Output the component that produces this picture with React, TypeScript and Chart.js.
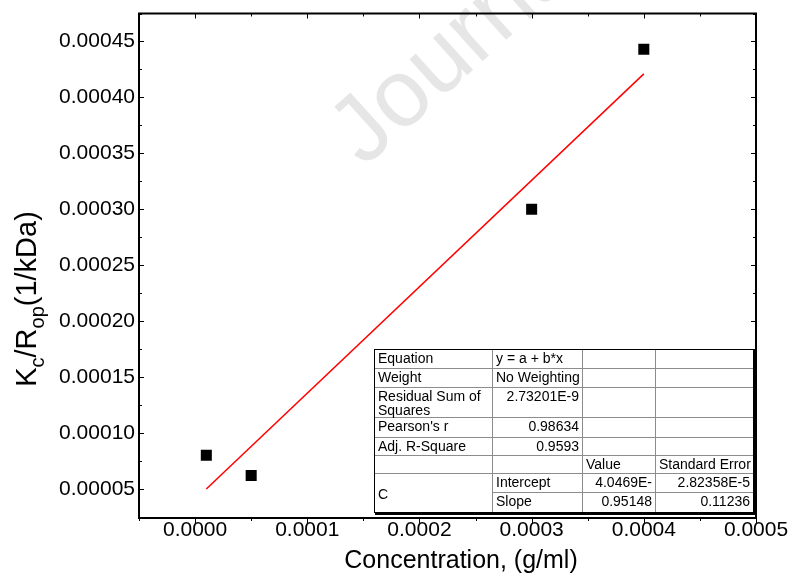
import React, { useEffect, useRef } from "react";
import { Chart, registerables } from "chart.js";

Chart.register(...registerables);

// Measured samples: concentration (g/ml) vs Kc/Rθ (1/kDa)
const concentration = [0.00001, 0.00005, 0.0003, 0.0004];
const kcOverRop = [0.00008, 0.000062, 0.0003, 0.000443];

// Linear fit y = a + b*x
const fitIntercept = 4.0469e-5;
const fitSlope = 0.95148;

const xTickValues = [0, 0.0001, 0.0002, 0.0003, 0.0004, 0.0005];
const yTickValues = [0.00005, 0.0001, 0.00015, 0.0002, 0.00025, 0.0003, 0.00035, 0.0004, 0.00045];

// Fit statistics table
const statLabels = [["Equation"], ["Weight"], ["Residual Sum of", "Squares"], ["Pearson's r"], ["Adj. R-Square"]];
const statValues = ["y = a + b*x", "No Weighting", "2.73201E-9", "0.98634", "0.9593"];
const paramHeaders = ["Value", "Standard Error"];
const paramGroup = "C";
const paramNames = ["Intercept", "Slope"];
const paramValues = ["4.0469E-", "0.95148"];
const paramErrors = ["2.82358E-5", "0.11236"];

const xTitle = "Concentration, (g/ml)";
const yTitleParts = [
  { text: "K", sub: false },
  { text: "c", sub: true },
  { text: "/R", sub: false },
  { text: "op", sub: true },
  { text: "(1/kDa)", sub: false },
];
const watermarkText = "Journal Pre-proof";

const FONT = "'Liberation Sans', Arial, sans-serif";

function drawTable(ctx: CanvasRenderingContext2D) {
  const colX = [374, 492, 582, 655, 753];
  const rowY = [349, 368, 387, 417, 437, 455, 473, 492, 512];
  const left = colX[0];
  const right = colX[4];
  const top = rowY[0];
  const bottom = rowY[rowY.length - 1];

  ctx.save();
  ctx.fillStyle = "#ffffff";
  ctx.fillRect(left, top, right - left, bottom - top);

  // inner grid
  ctx.strokeStyle = "#8c8c8c";
  ctx.lineWidth = 1;
  ctx.beginPath();
  for (let i = 1; i < rowY.length - 1; i++) {
    const y = rowY[i] + 0.5;
    const x0 = i === 7 ? colX[1] : left;
    ctx.moveTo(x0, y);
    ctx.lineTo(right, y);
  }
  for (let j = 1; j < colX.length - 1; j++) {
    const x = colX[j] + 0.5;
    ctx.moveTo(x, top);
    ctx.lineTo(x, bottom);
  }
  ctx.stroke();

  // border
  ctx.strokeStyle = "#000000";
  ctx.lineWidth = 1;
  ctx.strokeRect(left + 0.5, top + 0.5, right - left, bottom - top);
  ctx.lineWidth = 2;
  ctx.beginPath();
  ctx.moveTo(right + 2, top + 1);
  ctx.lineTo(right + 2, bottom + 2);
  ctx.lineTo(left + 1, bottom + 2);
  ctx.stroke();

  ctx.fillStyle = "#000000";
  ctx.font = `14px ${FONT}`;
  ctx.textBaseline = "alphabetic";
  const pad = 4;
  const base = 13.5;

  statLabels.forEach((lines, i) => {
    ctx.textAlign = "left";
    lines.forEach((ln, k) => ctx.fillText(ln, colX[0] + pad, rowY[i] + base + k * 14.5));
    const alignRight = i >= 2;
    ctx.textAlign = alignRight ? "right" : "left";
    ctx.fillText(statValues[i], alignRight ? colX[2] - 3 : colX[1] + pad, rowY[i] + base);
  });

  ctx.textAlign = "left";
  ctx.fillText(paramHeaders[0], colX[2] + pad, rowY[5] + base);
  ctx.fillText(paramHeaders[1], colX[3] + pad, rowY[5] + base);

  ctx.fillText(paramGroup, colX[0] + pad, (rowY[6] + rowY[8]) / 2 + 6);
  paramNames.forEach((name, i) => {
    const y = rowY[6 + i] + base;
    ctx.textAlign = "left";
    ctx.fillText(name, colX[1] + pad, y);
    ctx.textAlign = "right";
    ctx.fillText(paramValues[i], colX[3] - 3, y);
    ctx.fillText(paramErrors[i], colX[4] - 3, y);
  });
  ctx.restore();
}

const decorPlugin = {
  id: "decor",
  beforeDraw(chart: any) {
    const { ctx, width, height } = chart;
    ctx.save();
    ctx.fillStyle = "#ffffff";
    ctx.fillRect(0, 0, width, height);
    ctx.translate(364, 168);
    ctx.rotate((-42 * Math.PI) / 180);
    ctx.font = `95px ${FONT}`;
    ctx.fillStyle = "#e6e6e6";
    ctx.textBaseline = "alphabetic";
    ctx.fillText(watermarkText, 0, 0);
    ctx.restore();
  },
  afterDatasetsDraw(chart: any) {
    const { ctx, chartArea } = chart;
    const { left, top, right, bottom } = chartArea;
    const xs = chart.scales.x;
    const ys = chart.scales.y;

    ctx.save();
    // frame
    ctx.strokeStyle = "#000000";
    ctx.lineWidth = 2;
    ctx.strokeRect(left, top, right - left, bottom - top);

    // tick marks
    ctx.lineWidth = 1;
    ctx.beginPath();
    for (let i = -1; i <= 10; i++) {
      const v = i * 0.00005;
      if (v < xs.min - 1e-12 || v > xs.max + 1e-12) continue;
      const len = i % 2 === 0 ? 5 : 3;
      const x = Math.round(xs.getPixelForValue(v)) + 0.5;
      ctx.moveTo(x, bottom);
      ctx.lineTo(x, bottom + len);
      ctx.moveTo(x, top);
      ctx.lineTo(x, top + len);
    }
    for (let i = 1; i <= 19; i++) {
      const v = i * 0.000025;
      if (v < ys.min || v > ys.max) continue;
      const len = i % 2 === 0 ? 5 : 3;
      const y = Math.round(ys.getPixelForValue(v)) + 0.5;
      ctx.moveTo(left, y);
      ctx.lineTo(left + len, y);
      ctx.moveTo(right, y);
      ctx.lineTo(right - len, y);
    }
    ctx.stroke();

    drawTable(ctx);

    // x axis title
    ctx.fillStyle = "#000000";
    ctx.font = `25px ${FONT}`;
    ctx.textAlign = "center";
    ctx.textBaseline = "alphabetic";
    ctx.fillText(xTitle, 461, 568);

    // y axis title with subscripts
    const mainFont = `29px ${FONT}`;
    const subFont = `20px ${FONT}`;
    let total = 0;
    yTitleParts.forEach((p) => {
      ctx.font = p.sub ? subFont : mainFont;
      total += ctx.measureText(p.text).width;
    });
    ctx.translate(36, 299);
    ctx.rotate(-Math.PI / 2);
    ctx.textAlign = "left";
    let cx = -total / 2;
    yTitleParts.forEach((p) => {
      ctx.font = p.sub ? subFont : mainFont;
      ctx.fillText(p.text, cx, p.sub ? 8 : 0);
      cx += ctx.measureText(p.text).width;
    });
    ctx.restore();
  },
};

export default function App() {
  const canvasRef = useRef<HTMLCanvasElement | null>(null);

  useEffect(() => {
    const canvas = canvasRef.current;
    if (!canvas) return;

    const points = concentration.map((x, i) => ({ x, y: kcOverRop[i] }));
    const fitXs = [Math.min(...concentration), Math.max(...concentration)];
    const fitLine = fitXs.map((x) => ({ x, y: fitIntercept + fitSlope * x }));

    const chart = new Chart(canvas, {
      type: "scatter",
      data: {
        datasets: [
          {
            data: fitLine,
            showLine: true,
            borderColor: "#ff0000",
            borderWidth: 1.5,
            pointRadius: 0,
            fill: false,
          },
          {
            data: points,
            pointStyle: "rect",
            pointRadius: 7.8,
            backgroundColor: "#000000",
            borderWidth: 0,
          },
        ],
      },
      options: {
        responsive: false,
        animation: false,
        devicePixelRatio: 1,
        layout: { padding: { left: 59, right: 39, top: 13.5, bottom: 34 } },
        plugins: {
          legend: { display: false },
          tooltip: { enabled: false },
        },
        scales: {
          x: {
            type: "linear",
            min: -0.00005,
            max: 0.0005,
            afterBuildTicks: (scale: any) => {
              scale.ticks = xTickValues.map((value) => ({ value }));
            },
            afterFit: (scale: any) => {
              scale.height = 25;
              scale.paddingLeft = 0;
              scale.paddingRight = 0;
            },
            ticks: {
              padding: 0,
              autoSkip: false,
              maxRotation: 0,
              color: "#000000",
              font: { family: FONT, size: 21 },
              callback: (v: any) => Number(v).toFixed(4),
            },
            grid: { display: false, drawTicks: false },
            border: { display: false },
          },
          y: {
            type: "linear",
            min: 0.000024,
            max: 0.000475,
            afterBuildTicks: (scale: any) => {
              scale.ticks = yTickValues.map((value) => ({ value }));
            },
            afterFit: (scale: any) => {
              scale.width = 80;
              scale.paddingTop = 0;
              scale.paddingBottom = 0;
            },
            ticks: {
              padding: 4,
              autoSkip: false,
              color: "#000000",
              font: { family: FONT, size: 21 },
              callback: (v: any) => Number(v).toFixed(5),
            },
            grid: { display: false, drawTicks: false },
            border: { display: false },
          },
        },
      },
      plugins: [decorPlugin],
    });

    return () => chart.destroy();
  }, []);

  return (
    <div style={{ position: "absolute", left: 0, top: 0, width: 795, height: 577 }}>
      <canvas ref={canvasRef} width={795} height={577} style={{ display: "block" }} />
    </div>
  );
}
